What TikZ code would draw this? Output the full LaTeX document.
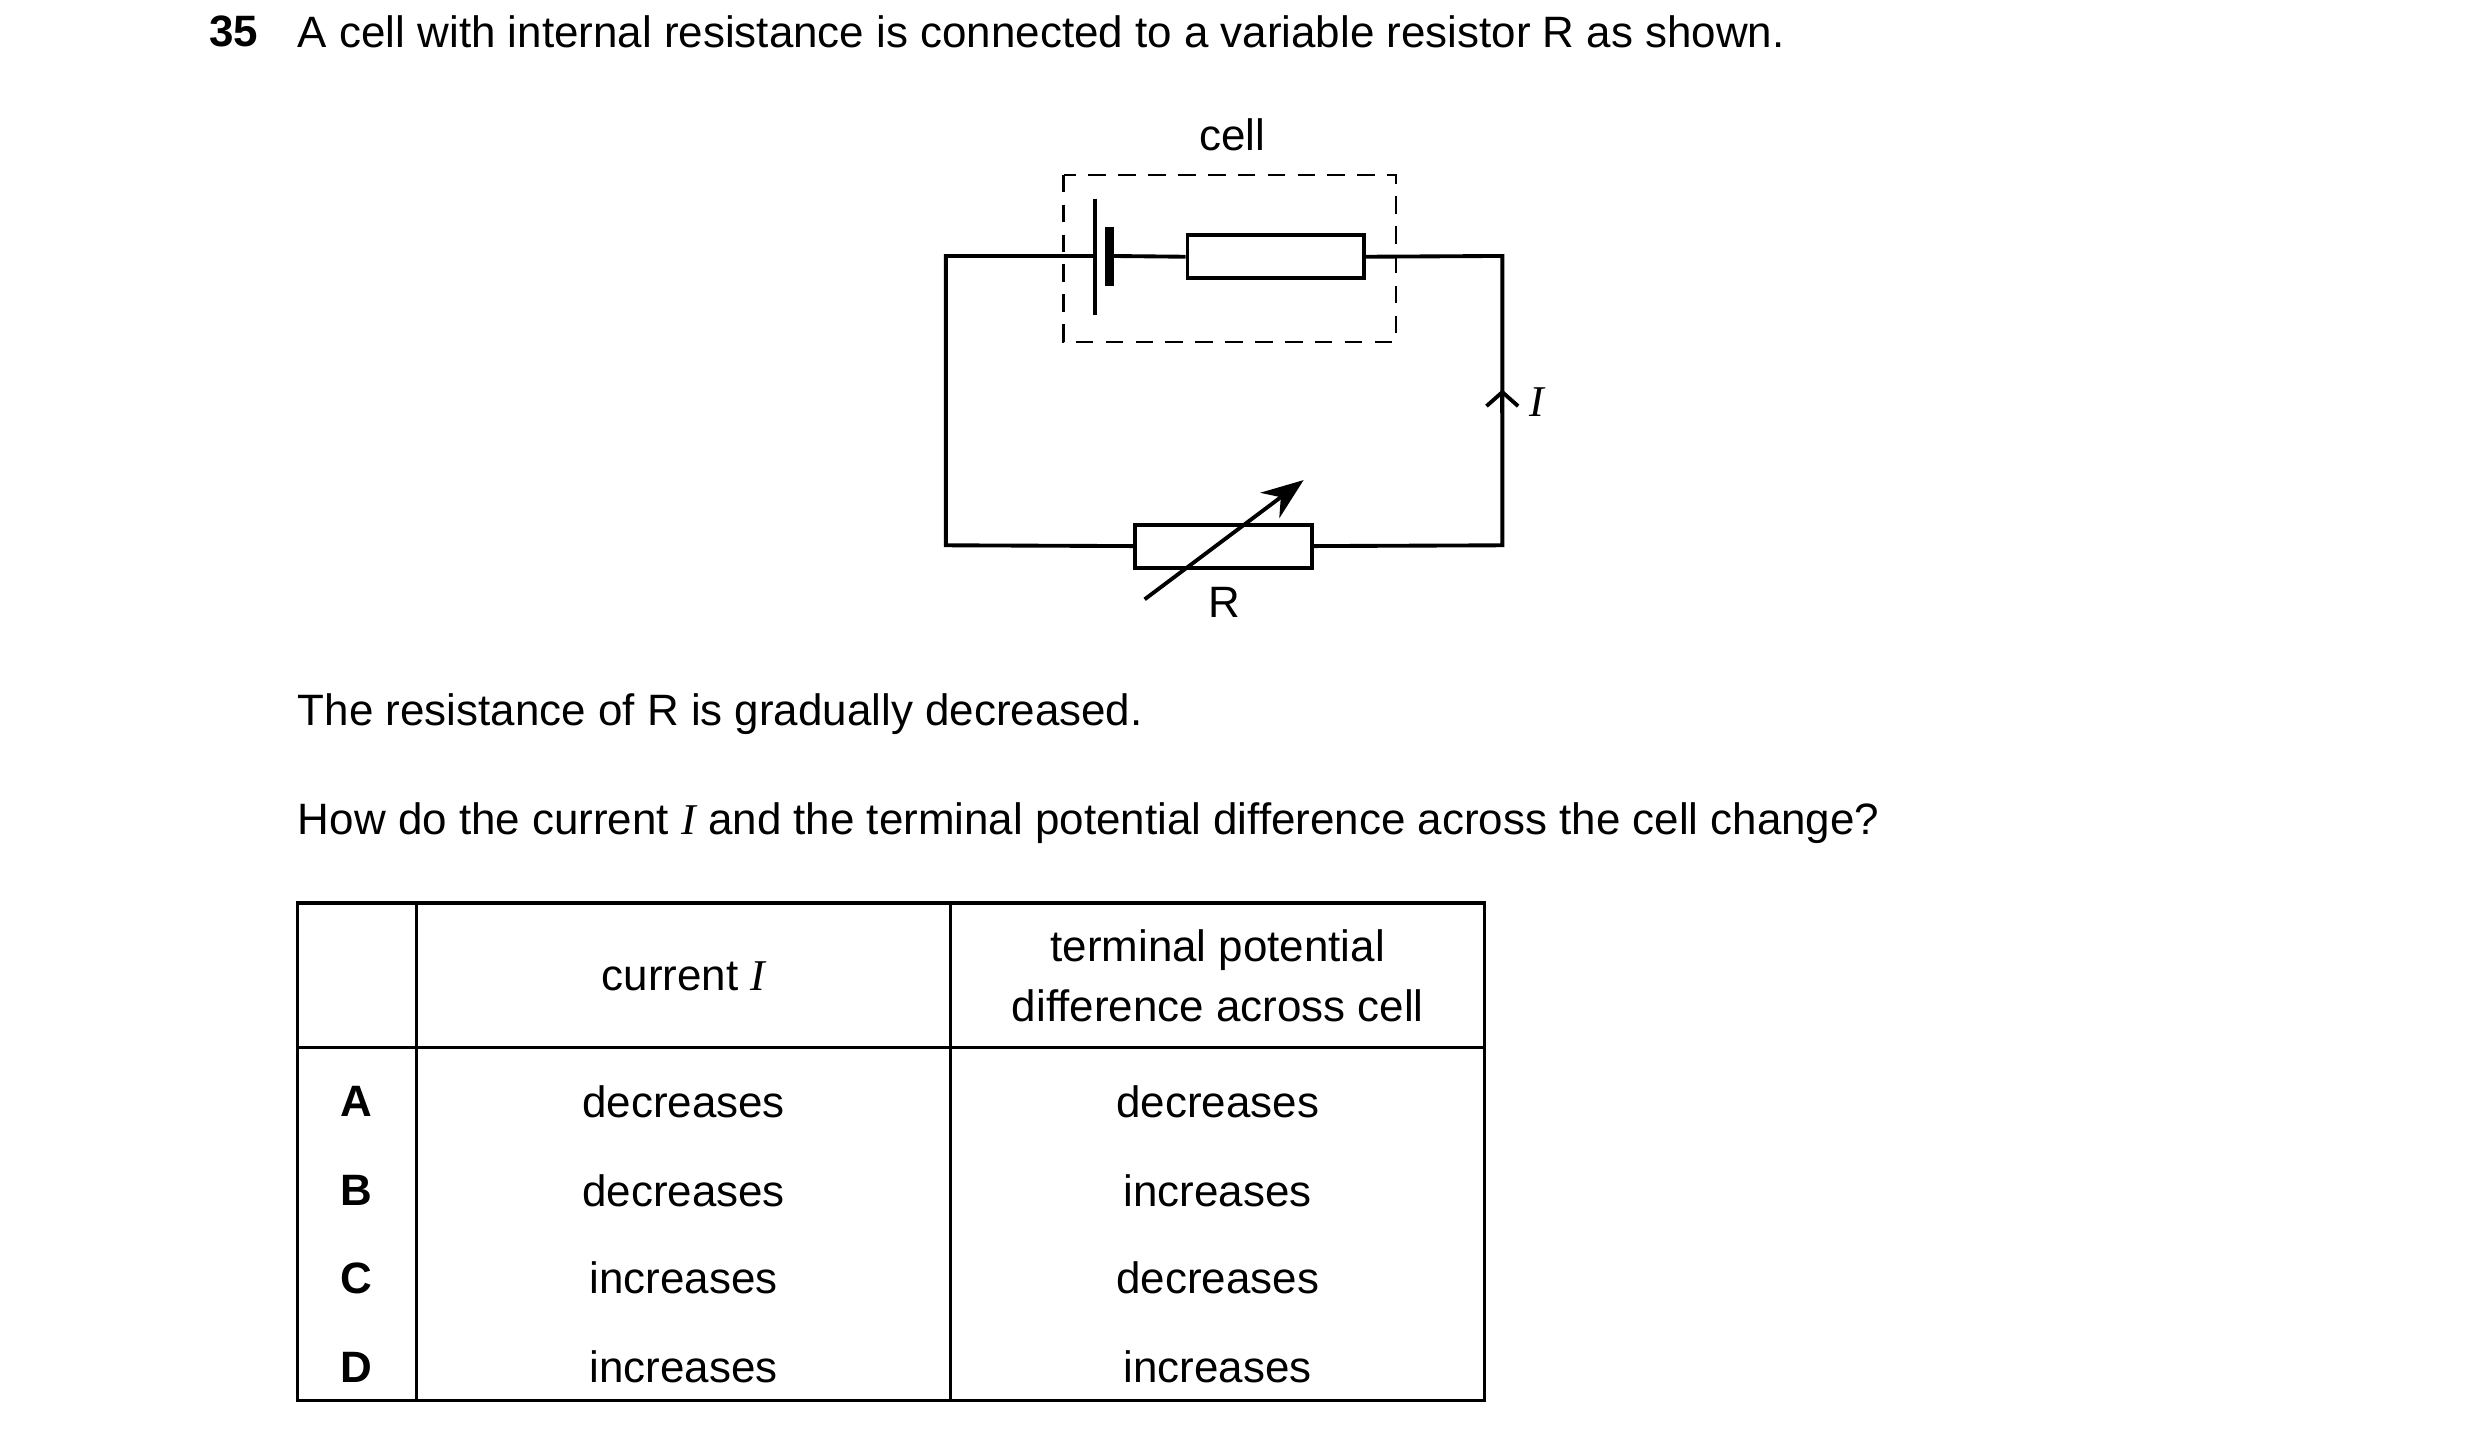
\documentclass[tikz,border=0pt]{standalone}
\usepackage{fontspec}
\setmainfont{Liberation Sans}
\newfontfamily\ifont{Liberation Serif}
\usetikzlibrary{arrows.meta}
\usetikzlibrary{positioning}

\tikzset{
  txt/.style={inner sep=0pt,font=\fontsize{12.5}{15}\selectfont},
  lft/.style={txt,anchor=west},
  wire/.style={line width=1.1pt},
  res/.style={draw,line width=1.1pt,inner sep=0pt}
}
\newcommand{\curI}{{\ifont\itshape I}}

\begin{document}
\begin{tikzpicture}[x=0.0159cm,y=-0.0159cm]
  \useasboundingbox (0,0) rectangle (1560,902);

  % heading and question
  \node [txt,font=\fontsize{12.5}{15}\selectfont\bfseries] (num) at (147,20) {35};
  \node [lft] (head) at (187,20) {A cell with internal resistance is connected to a variable resistor R as shown.};
  \node [lft] (q1) at (187,449) {The resistance of R is gradually decreased.};
  \node [lft] (q2) at (187,518) {How do the current \curI\ and the terminal potential difference across the cell change?};

  % circuit
  \coordinate (tl) at (595,161);
  \coordinate (tr) at (945,161);
  \coordinate (br) at (945,343);
  \coordinate (bl) at (595,343);
  \coordinate (longp) at (689,161);
  \coordinate (shortp) at (698,161);
  \node [res,minimum width=1.765cm,minimum height=0.43cm] (rint) at (802.5,161.5) {};
  \node [res,minimum width=1.765cm,minimum height=0.43cm] (rvar) at (769.5,343.5) {};

  \draw [wire] (longp) -- (tl) -- (bl) -- (rvar.west);
  \draw [wire] (rvar.east) -- (br) -- (tr) -- (rint.east);
  \draw [wire] (shortp) -- (rint.west);
  \draw [wire] (689,125) -- (689,198);
  \draw [line width=2.4pt] (698,143) -- (698,180);

  \draw [dashed,line width=0.7pt,dash pattern=on 5pt off 3.5pt] (669,110) rectangle (878,215);
  \node [txt] (celllab) at (775,85) {cell};

  \coordinate (ia) at (945,260);
  \coordinate (ib) at (945,245);
  \draw [wire,-{Straight Barb[length=4pt,width=9pt]}] (ia) -- (ib);
  \node [txt] (ilab) at (967,253) {\curI};

  \coordinate (va) at (720,377);
  \coordinate (vb) at (820,302);
  \draw [wire,-{Stealth[length=12pt,width=9pt]}] (va) -- (vb);
  \node [txt] (rlab) at (770,379) {R};

  % table
  \draw [line width=0.9pt] (187,568) rectangle (934,881);
  \draw [line width=0.9pt] (262,568) -- (262,881);
  \draw [line width=0.9pt] (598,568) -- (598,881);
  \draw [line width=0.9pt] (187,659) -- (934,659);

  \node [txt] (hcur) at (430,614) {current \curI};
  \node [txt,align=center] (hpd) at (766,614) {terminal potential\\[2pt]difference across cell};

  \foreach \y/\k/\c/\p in {693/A/decreases/decreases,749/B/decreases/increases,
                           804/C/increases/decreases,860/D/increases/increases} {
    \node [txt,font=\fontsize{12.5}{15}\selectfont\bfseries] (k\k) at (224,\y) {\k};
    \node [txt] (c\k) at (430,\y) {\c};
    \node [txt] (p\k) at (766,\y) {\p};
  }
\end{tikzpicture}
\end{document}
